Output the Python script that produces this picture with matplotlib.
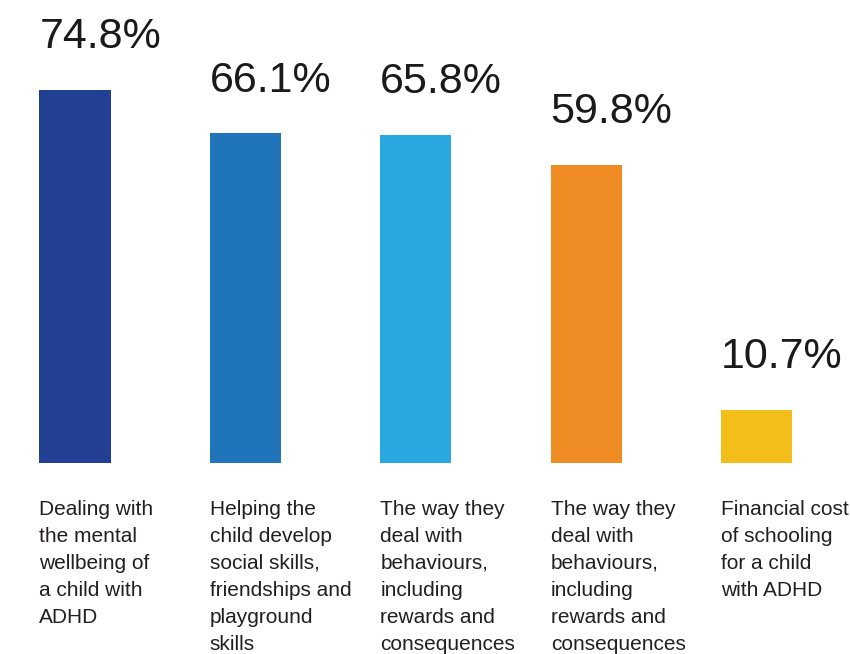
import matplotlib.pyplot as plt

plt.rcParams['font.family'] = ['Liberation Sans', 'DejaVu Sans']

# data
categories = [
    'Dealing with\nthe mental\nwellbeing of\na child with\nADHD',
    'Helping the\nchild develop\nsocial skills,\nfriendships and\nplayground\nskills',
    'The way they\ndeal with\nbehaviours,\nincluding\nrewards and\nconsequences',
    'The way they\ndeal with\nbehaviours,\nincluding\nrewards and\nconsequences',
    'Financial cost\nof schooling\nfor a child\nwith ADHD',
]
values = [74.8, 66.1, 65.8, 59.8, 10.7]
colors = ['#223F94', '#1F74BA', '#29A8E0', '#EE8B22', '#F3BD1A']

fig = plt.figure(figsize=(8.5, 6.54), dpi=100)
ax = fig.add_axes([0, 1 - 463 / 654, 1, 463 / 654])

width = 0.417
x = list(range(len(values)))
rects = ax.bar(x, values, width=width, color=colors)

ax.set_xlim(-0.44, 4.548)
ax.set_ylim(0, 92.8)
ax.axis('off')

#百分比标签和类别标签
for rect, val, cat in zip(rects, values, categories):
    left = rect.get_x()
    ax.annotate('%.1f%%' % val, xy=(left, val), xytext=(0, 30),
                textcoords='offset points', ha='left', va='baseline',
                fontsize=31, color='#1a1a1a', annotation_clip=False)
    ax.annotate(cat, xy=(left, 0), xytext=(0, -26.5),
                textcoords='offset points', ha='left', va='top',
                fontsize=15, color='#231F20', linespacing=1.53,
                annotation_clip=False)

fig.savefig('out.png', dpi=100)
